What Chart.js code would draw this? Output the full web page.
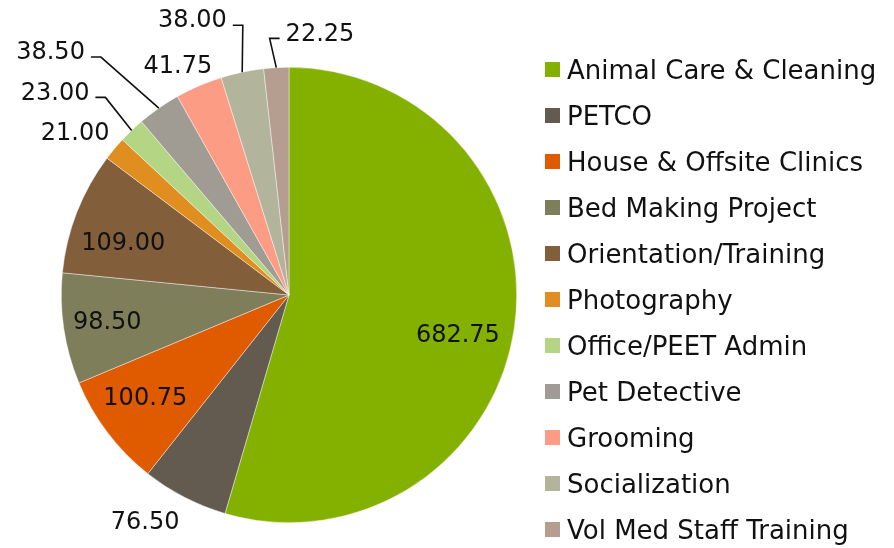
<!DOCTYPE html>
<html>
<head>
<meta charset="utf-8">
<script src="https://cdn.jsdelivr.net/npm/chart.js@4.4.1/dist/chart.umd.min.js"></script>
<style>
  html, body { margin: 0; padding: 0; background: #fff; }
  #wrap { position: relative; width: 894px; height: 548px; overflow: hidden; }
</style>
</head>
<body>
<div id="wrap"><canvas id="pie"></canvas></div>
<script>
/* global Chart */
const CATEGORIAS = [
  'Animal Care & Cleaning', 'PETCO', 'House & Offsite Clinics', 'Bed Making Project',
  'Orientation/Training', 'Photography', 'Office/PEET Admin', 'Pet Detective',
  'Grooming', 'Socialization', 'Vol Med Staff Training'
];
const HORAS = [682.75, 76.50, 100.75, 98.50, 109.00, 21.00, 23.00, 38.50, 41.75, 38.00, 22.25];
const ROTULOS = HORAS.map(v => v.toFixed(2));
const CORES = [
  '#84b000', '#635b50', '#e05a00', '#7e7f5a', '#825e3b', '#e08e20',
  '#b3d584', '#a09b93', '#fd9c84', '#b3b49c', '#b59d90'
];

// posicao dos rotulos: desvio em graus do meio da fatia, distancia em fracao do raio, linha guia
const POS_ROTULO = [
  { da: 5.1, d: 0.762 },
  { da: 5.1, d: 1.179 },
  { da: 1.6, d: 0.776 },
  { da: 0.1, d: 0.807 },
  { da: -3.9, d: 0.763 },
  { da: -2.7, d: 1.18 },
  { da: -5.4, d: 1.359, linha: true },
  { da: -9.6, d: 1.495, linha: true },
  { da: -2.5, d: 1.12 },
  { da: -7.5, d: 1.279, linha: true },
  { da: 9.95, d: 1.157, linha: true }
];

const FONTE = '"DejaVu Sans", sans-serif';

const rotulosPlugin = {
  id: 'rotulos',
  afterDatasetsDraw(chart) {
    const ctx = chart.ctx;
    const arcs = chart.getDatasetMeta(0).data;
    ctx.save();
    ctx.font = '24px ' + FONTE;
    ctx.fillStyle = '#111';
    ctx.strokeStyle = '#111';
    ctx.lineWidth = 1.6;
    ctx.textAlign = 'center';
    ctx.textBaseline = 'middle';
    arcs.forEach((arc, i) => {
      const p = POS_ROTULO[i];
      const { x, y, startAngle, endAngle, outerRadius } =
        arc.getProps(['x', 'y', 'startAngle', 'endAngle', 'outerRadius'], true);
      const meio = (startAngle + endAngle) / 2;
      const a = meio + p.da * Math.PI / 180;
      const lx = x + Math.cos(a) * outerRadius * p.d;
      const ly = y + Math.sin(a) * outerRadius * p.d;
      ctx.fillText(ROTULOS[i], lx, ly + 1);
      if (p.linha) {
        const w = ctx.measureText(ROTULOS[i]).width;
        const ex = x + Math.cos(meio) * outerRadius;
        const ey = y + Math.sin(meio) * outerRadius;
        const lado = ex > lx ? 1 : -1;
        const sx = lx + lado * (w / 2 + 6);
        const sy = ly + 5;
        ctx.beginPath();
        ctx.moveTo(sx, sy);
        ctx.lineTo(sx + lado * 10, sy);
        ctx.lineTo(ex, ey);
        ctx.stroke();
      }
    });
    ctx.restore();
  }
};

const legendaPlugin = {
  id: 'legenda',
  afterDraw(chart) {
    const ctx = chart.ctx;
    ctx.save();
    ctx.font = '26px ' + FONTE;
    ctx.textBaseline = 'middle';
    ctx.textAlign = 'left';
    CATEGORIAS.forEach((nome, i) => {
      const cy = 70 + i * 46;
      ctx.fillStyle = CORES[i];
      ctx.fillRect(545, cy - 8, 15, 15);
      ctx.fillStyle = '#111';
      ctx.fillText(nome, 567, cy + 2);
    });
    ctx.restore();
  }
};

new Chart(document.getElementById('pie'), {
  type: 'pie',
  data: {
    labels: CATEGORIAS,
    datasets: [{
      data: HORAS,
      backgroundColor: CORES,
      borderColor: 'rgba(255,255,255,0.7)',
      borderWidth: 0.6
    }]
  },
  options: {
    responsive: true,
    maintainAspectRatio: false,
    devicePixelRatio: 1,
    animation: false,
    events: [],
    layout: { padding: { left: 61, right: 377, top: 67, bottom: 25 } },
    plugins: {
      legend: { display: false },
      tooltip: { enabled: false }
    }
  },
  plugins: [rotulosPlugin, legendaPlugin]
});
</script>
</body>
</html>
